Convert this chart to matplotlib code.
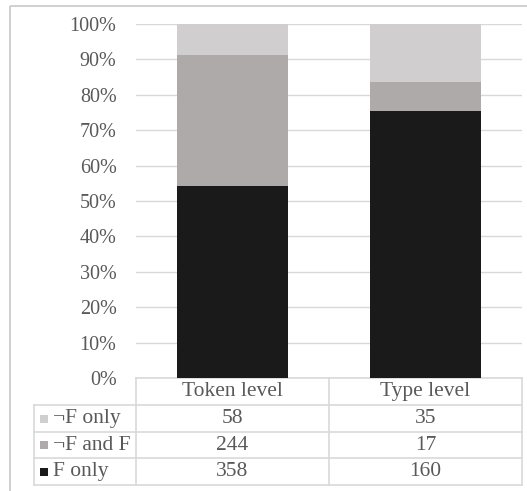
import matplotlib
matplotlib.use("Agg")
import matplotlib.pyplot as plt
from matplotlib import transforms
from matplotlib.patches import Rectangle
from matplotlib.lines import Line2D
import numpy as np

# Categories and raw counts per series
categories = ["Token level", "Type level"]
series_names = ["¬F only", "¬F and F", "F only"]
not_f_only = [58, 35]
not_f_and_f = [244, 17]
f_only = [358, 160]
series_colors = ["#d0cece", "#aeaaaa", "#1a1a1a"]
tick_labels = ["0%", "10%", "20%", "30%", "40%", "50%", "60%", "70%", "80%", "90%", "100%"]

plt.rcParams["font.family"] = ["Liberation Serif", "DejaVu Serif"]
TEXT = "#595959"
GRID = "#d9d9d9"
FS_TICK = 14.5
FS_TABLE = 15.5

W, H = 527, 491
fig = plt.figure(figsize=(W / 100, H / 100), dpi=100)

# Overlay in pixel coordinates for frame and table
over = fig.add_axes([0, 0, 1, 1])
over.set_xlim(0, W)
over.set_ylim(H, 0)
over.axis("off")

# Plot area
left, right, top, bottom = 136, 522, 24, 378
ax = fig.add_axes([left / W, 1 - bottom / H, (right - left) / W, (bottom - top) / H])

counts = np.array([f_only, not_f_and_f, not_f_only], dtype=float)
totals = counts.sum(axis=0)
shares = counts / totals * 100
stack_colors = [series_colors[2], series_colors[1], series_colors[0]]

x = np.arange(len(categories))
base = np.zeros(len(categories))
for vals, col in zip(shares, stack_colors):
    ax.bar(x, vals, bottom=base, width=0.575, color=col, zorder=3)
    base += vals

ax.set_xlim(-0.5, len(categories) - 0.5)
ax.set_ylim(0, 100)
ax.set_yticks(np.arange(0, 101, 10))
ax.set_yticklabels(tick_labels, fontsize=FS_TICK, color=TEXT)
ax.tick_params(axis="y", length=0, pad=14)
ax.set_xticks([])
ax.grid(axis="y", color=GRID, lw=1, zorder=0)
for s in ax.spines.values():
    s.set_visible(False)
ax.patch.set_alpha(0)

# Outer chart frame
over.add_patch(Rectangle((10, 6), 540, 500, fill=False, ec="#c8c8c8", lw=1.2))

# Data table below the plot
blend = transforms.blended_transform_factory(ax.transData, over.transData)
edges = np.arange(len(categories) + 1) - 0.5
row_y = [378, 405, 432, 458, 485]
legend_left = 34
line_kw = dict(color=GRID, lw=1.2)

# table borders
for xe in edges:
    over.add_line(Line2D([xe, xe], [row_y[0], row_y[-1]], transform=blend, **line_kw))
over.add_line(Line2D([edges[0], edges[-1]], [row_y[0], row_y[0]], transform=blend, **line_kw))
for yy in row_y[1:]:
    over.add_line(Line2D([legend_left, left], [yy, yy], **line_kw))
    over.add_line(Line2D([edges[0], edges[-1]], [yy, yy], transform=blend, **line_kw))
over.add_line(Line2D([legend_left, legend_left], [row_y[1], row_y[-1]], **line_kw))

for i, cat in enumerate(categories):
    over.text(x[i], (row_y[0] + row_y[1]) / 2, cat, transform=blend, ha="center",
              va="center", fontsize=FS_TABLE, color=TEXT)

table_rows = [not_f_only, not_f_and_f, f_only]
for r, (name, vals, col) in enumerate(zip(series_names, table_rows, series_colors)):
    yc = (row_y[r + 1] + row_y[r + 2]) / 2
    over.add_patch(Rectangle((40, yc - 4), 8, 8, color=col, lw=0))
    over.text(53, yc, name, ha="left", va="center", fontsize=FS_TABLE, color=TEXT)
    for i, v in enumerate(vals):
        over.text(x[i], yc, str(v), transform=blend, ha="center", va="center",
                  fontsize=FS_TABLE, color=TEXT)

fig.savefig("out.png", dpi=100)
